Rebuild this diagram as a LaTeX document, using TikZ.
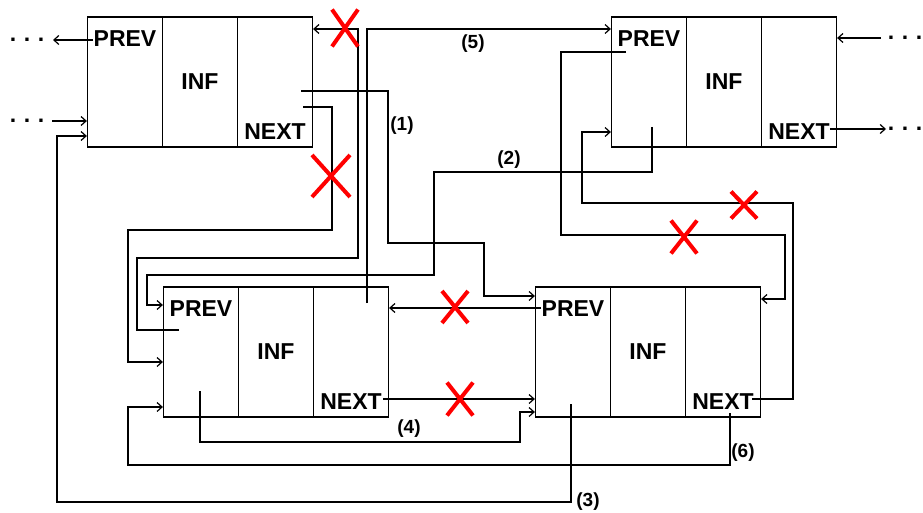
\documentclass[tikz,border=0pt]{standalone}
\usepackage{fontspec}
\setmainfont{Liberation Sans}
\usetikzlibrary{matrix,calc,shapes.misc,arrows.meta}

\newcommand{\dotsrow}{.\hspace{7.6pt}.\hspace{7.6pt}.}

\begin{document}
\begin{tikzpicture} [x=1pt, y=-1pt, line width=1.2pt,
          >={Straight Barb[length=5pt,width=9pt]},
          record/.style={matrix of nodes, nodes in empty cells, inner sep=0pt,
            column sep=-\pgflinewidth, nodes={draw, minimum width=75pt,
            minimum height=130pt, inner sep=0pt}},
          field/.style={font=\fontsize{23}{23}\selectfont\bfseries, inner sep=0pt},
          num/.style={font=\fontsize{19}{19}\selectfont\bfseries, inner sep=0pt},
          dotsnode/.style={font=\fontsize{23}{23}\selectfont\bfseries, inner sep=0pt},
          cut/.style={cross out, draw=red, line width=4pt, inner sep=0pt,
            minimum width=22pt, minimum height=29pt}]
  \useasboundingbox (0,0) rectangle (923,513);

  % the four records
  \matrix (A) [record] at (200,82) { & & \\ };
  \matrix (B) [record] at (724,82) { & & \\ };
  \matrix (C) [record] at (276,352) { & & \\ };
  \matrix (D) [record] at (648,352) { & & \\ };
  \foreach \rec in {A,B,C,D} {
    \node (\rec-prev) [field] at ($(\rec-1-1.north)+(0,22.5)$) {PREV};
    \node (\rec-inf) [field] at (\rec-1-2.center) {INF};
    \node (\rec-next) [field] at ($(\rec-1-3.south)+(0,-16)$) {NEXT};
  }

  % pointer ends inside the fields
  \coordinate (a-p) at (93,40);
  \coordinate (a-out) at (53,40);
  \coordinate (a-in) at (52,121);
  \coordinate (a-n1) at (301,91);
  \coordinate (a-n2) at (303,107);
  \coordinate (b-p1) at (626,52);
  \coordinate (b-p2) at (652,127);
  \coordinate (b-in) at (881,38);
  \coordinate (b-n) at (830,129);
  \coordinate (b-out) at (886,129);
  \coordinate (c-p1) at (179,330);
  \coordinate (c-p2) at (200,391);
  \coordinate (c-n1) at (367,303);
  \coordinate (c-n2) at (383,399);
  \coordinate (d-p1) at (541,308);
  \coordinate (d-p2) at (571,404);
  \coordinate (d-n1) at (752,399);
  \coordinate (d-n2) at (730,413);

  % rest of the list
  \draw[->] (a-p) -- (a-out);
  \draw[->] (a-in) -- (A-1-1.west |- a-in);
  \draw[->] (b-in) -- (B-1-3.east |- b-in);
  \draw[->] (b-n) -- (b-out);
  \node (a-dots1) [dotsnode] at (27,40) {\dotsrow};
  \node (a-dots2) [dotsnode] at (27,121) {\dotsrow};
  \node (b-dots1) [dotsnode] at (905,38) {\dotsrow};
  \node (b-dots2) [dotsnode] at (905,129) {\dotsrow};

  % old links
  \draw[->] (a-n2) -| (332,230) -| (128,362) -- (C-1-1.west |- 0,362);
  \draw[->] (c-p1) -| (137,258) -| (358,29) -- (A-1-3.east |- 0,29);
  \draw[->] (c-n2) -- (D-1-1.west |- c-n2);
  \draw[->] (d-p1) -- (C-1-3.east |- d-p1);
  \draw[->] (d-n1) -| (793,203) -| (582,132) -- (B-1-1.west |- 0,132);
  \draw[->] (b-p1) -| (561,235) -| (785,299) -- (D-1-3.east |- 0,299);

  % new links
  \draw[->] (a-n1) -| (388,243) -| (484,296) -- (D-1-1.west |- 0,296);
  \draw[->] (b-p2) |- (434,172) |- (147,275) |- (C-1-1.west |- 0,305);
  \draw[->] (d-p2) |- (57,502) |- (A-1-1.west |- 0,136);
  \draw[->] (c-p2) |- (520,442) |- (D-1-1.west |- 0,412);
  \draw[->] (c-n1) |- (B-1-1.west |- 0,29);
  \draw[->] (d-n2) |- (128,465) |- (C-1-1.west |- 0,407);
  \node (n1) [num] at (402,126) {(1)};
  \node (n2) [num] at (509,160) {(2)};
  \node (n3) [num] at (588,502) {(3)};
  \node (n4) [num] at (409,429) {(4)};
  \node (n5) [num] at (473,44) {(5)};
  \node (n6) [num] at (743,453) {(6)};

  % crossed out
  \node (x1) [cut, minimum height=33pt] at (345,28) {};
  \node (x2) [cut, minimum width=34pt, minimum height=38pt] at (331,176) {};
  \node (x3) [cut, minimum height=28pt] at (455,307) {};
  \node (x4) [cut] at (460,399) {};
  \node (x5) [cut, minimum height=23pt] at (744,205) {};
  \node (x6) [cut] at (684,237) {};
\end{tikzpicture}
\end{document}
